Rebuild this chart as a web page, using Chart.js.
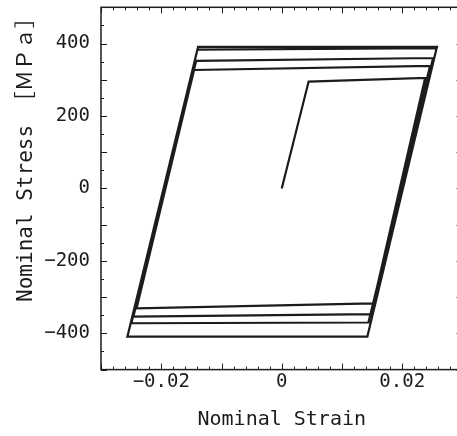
<!DOCTYPE html>
<html>
<head>
<meta charset="utf-8">
<script src="https://cdn.jsdelivr.net/npm/chart.js@4.4.1/dist/chart.umd.min.js"></script>
<style>
  html, body { margin: 0; padding: 0; background: #fff; overflow: hidden; }
  #wrap { width: 457px; height: 436px; overflow: hidden; }
  canvas { display: block; }
</style>
</head>
<body>
<div id="wrap"><canvas id="chart" width="470" height="436"></canvas></div>
<script>
// ── values (cyclic loop, in drawing order) ──
const strain = [0, 0.00446, 0.0238, 0.0152, -0.0241, -0.01455, 0.0246, 0.01504, -0.02463,
  -0.01421, 0.02512, 0.01438, -0.02496, -0.01400, 0.0257, 0.01421, -0.02562, -0.01388, 0.02595];
const stress = [0, 295, 305, -317, -331, 327, 338, -347, -354,
  352, 360, -370, -372, 383, 387, -409, -409, 391, 391];

const xTickVals = [-0.02, 0, 0.02];
const xTickLabels = ['\u22120.02', '0', '0.02'];
const yTickVals = [-400, -200, 0, 200, 400];
const yTickLabels = ['\u2212400', '\u2212200', '0', '200', '400'];

const X_MIN = -0.03, X_MAX = 0.03, X_MINOR = 0.002, X_MAJOR = 0.01;
const Y_MIN = -500, Y_MAX = 500, Y_MINOR = 50, Y_MAJOR = 100;

const INK = '#1c1c1c';
const MONO = "'DejaVu Sans Mono', 'Noto Sans CJK JP', monospace";

// ── moldura fechada + ticks para dentro nos 4 lados ──
const frameTicks = {
  id: 'frameTicks',
  afterDraw(chart) {
    const { ctx, chartArea: a, scales: { x, y } } = chart;
    ctx.save();
    ctx.strokeStyle = INK;
    ctx.lineWidth = 1;
    ctx.beginPath();
    const nx = Math.round((X_MAX - X_MIN) / X_MINOR);
    for (let i = 0; i <= nx; i++) {
      const v = X_MIN + i * X_MINOR;
      const px = Math.round(x.getPixelForValue(v)) + 0.5;
      const r = v / X_MAJOR;
      const len = Math.abs(r - Math.round(r)) < 1e-6 ? 6 : 3;
      ctx.moveTo(px, a.bottom); ctx.lineTo(px, a.bottom - len);
      ctx.moveTo(px, a.top); ctx.lineTo(px, a.top + len);
    }
    const ny = Math.round((Y_MAX - Y_MIN) / Y_MINOR);
    for (let i = 0; i <= ny; i++) {
      const v = Y_MIN + i * Y_MINOR;
      const py = Math.round(y.getPixelForValue(v)) + 0.5;
      const len = v % Y_MAJOR === 0 ? 6 : 3;
      ctx.moveTo(a.left, py); ctx.lineTo(a.left + len, py);
      ctx.moveTo(a.right, py); ctx.lineTo(a.right - len, py);
    }
    ctx.stroke();
    ctx.lineWidth = 1.5;
    ctx.strokeRect(a.left, a.top, a.right - a.left, a.bottom - a.top);
    ctx.restore();
  },
};

new Chart(document.getElementById('chart'), {
  type: 'scatter',
  data: {
    datasets: [{
      data: strain.map((e, i) => ({ x: e, y: stress[i] })),
      showLine: true,
      borderColor: INK,
      borderWidth: 2.2,
      pointRadius: 0,
      tension: 0,
    }],
  },
  options: {
    responsive: false,
    animation: false,
    layout: { padding: { left: 0, right: 7.5, top: 7.3, bottom: 0 } },
    plugins: { legend: { display: false }, tooltip: { enabled: false } },
    scales: {
      x: {
        type: 'linear',
        min: X_MIN,
        max: X_MAX,
        grid: { display: false, drawTicks: false },
        border: { display: false },
        afterBuildTicks: (s) => { s.ticks = xTickVals.map((v) => ({ value: v })); },
        afterFit: (s) => { s.height = 66.4; s.paddingLeft = 0; s.paddingRight = 0; },
        ticks: {
          color: INK,
          padding: 1,
          maxRotation: 0,
          autoSkip: false,
          font: { family: MONO, size: 19 },
          callback: (v) => xTickLabels[xTickVals.indexOf(v)],
        },
        title: {
          display: true,
          text: 'Nominal Strain',
          color: INK,
          font: { family: MONO, size: 20 },
          padding: { top: 0, bottom: 4 },
        },
      },
      y: {
        type: 'linear',
        min: Y_MIN,
        max: Y_MAX,
        grid: { display: false, drawTicks: false },
        border: { display: false },
        afterBuildTicks: (s) => { s.ticks = yTickVals.map((v) => ({ value: v })); },
        afterFit: (s) => { s.width = 101; s.paddingTop = 0; s.paddingBottom = 0; },
        ticks: {
          color: INK,
          padding: 11,
          autoSkip: false,
          font: { family: MONO, size: 19 },
          callback: (v) => yTickLabels[yTickVals.indexOf(v)],
        },
        title: {
          display: true,
          text: 'Nominal Stress \uFF3B\uFF2D\uFF30\uFF41\uFF3D',
          align: 'end',
          color: INK,
          font: { family: MONO, size: 21 },
          padding: { top: 14, bottom: 0 },
        },
      },
    },
  },
  plugins: [frameTicks],
});
</script>
</body>
</html>
